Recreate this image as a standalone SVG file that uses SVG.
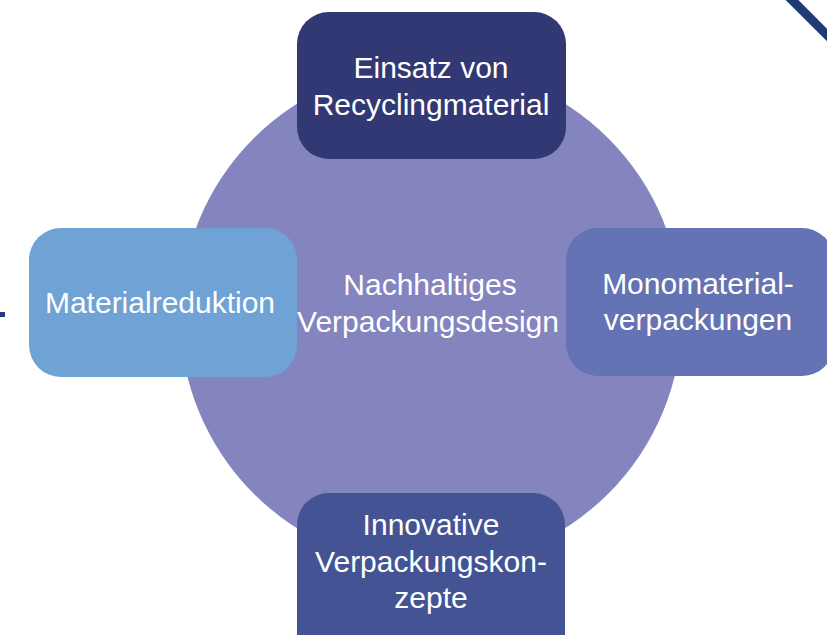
<svg xmlns="http://www.w3.org/2000/svg" width="827" height="635" viewBox="0 0 827 635">
<style>
.t{font-family:"Liberation Sans","Noto Sans",Arial,sans-serif;font-size:30px;fill:#ffffff;text-anchor:middle}
</style>
<rect width="827" height="635" fill="#ffffff"/>
<g id="deco">
<line x1="788" y1="-4" x2="831" y2="39" stroke="#1e3b78" stroke-width="9"/>
<rect x="0" y="312" width="5" height="5" fill="#1e3f7a"/>
</g>
<g id="center">
<circle cx="431" cy="316" r="251" fill="#8484bf"/>
<text class="t" x="430" y="295">Nachhaltiges</text>
<text class="t" x="428" y="332">Verpackungsdesign</text>
</g>
<g id="top">
<rect x="297" y="12" width="269" height="147" rx="32" fill="#313874"/>
<text class="t" x="431" y="78">Einsatz von</text>
<text class="t" x="431" y="115">Recyclingmaterial</text>
</g>
<g id="left">
<rect x="29" y="228" width="268" height="149" rx="32" fill="#6fa3d5"/>
<text class="t" x="160" y="313">Materialreduktion</text>
</g>
<g id="right">
<rect x="566" y="228" width="268" height="148" rx="32" fill="#6373b3"/>
<text class="t" x="698" y="294">Monomaterial-</text>
<text class="t" x="698" y="330">verpackungen</text>
</g>
<g id="bottom">
<rect x="297" y="493" width="268" height="180" rx="32" fill="#445394"/>
<text class="t" x="431" y="535">Innovative</text>
<text class="t" x="431" y="572">Verpackungskon-</text>
<text class="t" x="431" y="608">zepte</text>
</g>
<g id="connectors"></g>
</svg>
